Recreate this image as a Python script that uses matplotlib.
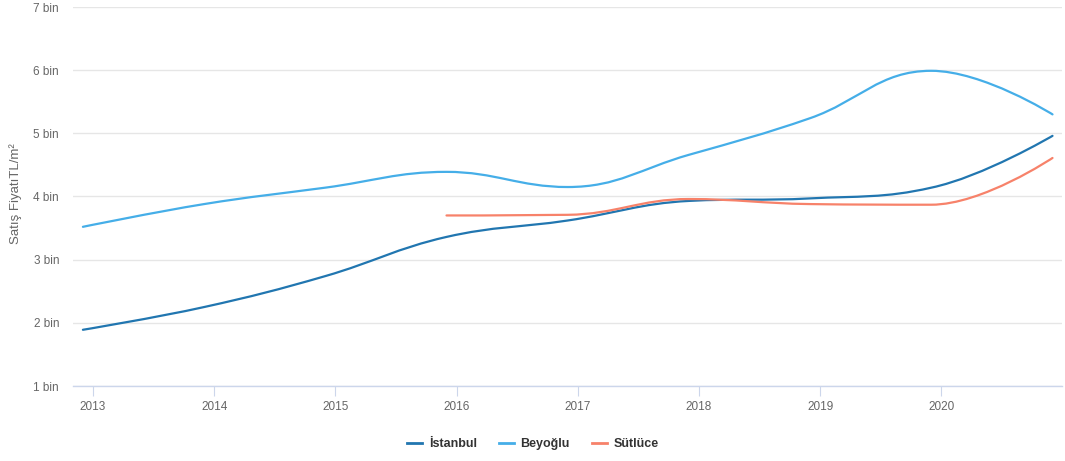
import numpy as np
import matplotlib
matplotlib.use('Agg')
import matplotlib.pyplot as plt
from matplotlib.path import Path
from matplotlib.patches import PathPatch
from matplotlib.lines import Line2D

plt.rcParams['font.family'] = ['Liberation Sans', 'DejaVu Sans']

# data: Aralık (December) values of each year, in thousand TL/m²
years = [2012, 2013, 2014, 2015, 2016, 2017, 2018, 2019, 2020]
istanbul = [1.89, 2.25, 2.74, 3.36, 3.62, 3.93, 3.97, 4.14, 4.96]
beyoglu = [3.52, 3.88, 4.14, 4.39, 4.15, 4.66, 5.24, 5.99, 5.30]
sutluce_years = [2015, 2016, 2017, 2018, 2019, 2020]
sutluce = [3.70, 3.71, 3.96, 3.88, 3.87, 4.61]

tick_years = [2013, 2014, 2015, 2016, 2017, 2018, 2019, 2020]
ytick_vals = [1, 2, 3, 4, 5, 6, 7]
ytick_labels = ['%d bin' % v for v in ytick_vals]

colors = {'İstanbul': '#2176b0', 'Beyoğlu': '#45aee8', 'Sütlüce': '#f7826a'}

# pixel scale, used for the spline angle correction
SX, SY = 121.2, 63.2


def spline_path(xs, ys, smoothing=1.5):
    """Highcharts style spline through the points, as a bezier path."""
    px = np.asarray(xs, float) * SX
    py = np.asarray(ys, float) * SY
    n = len(px)
    lc = [None] * n
    rc = [None] * n
    for i in range(n):
        if i == 0 or i == n - 1:
            lc[i] = (px[i], py[i])
            rc[i] = (px[i], py[i])
            continue
        d = smoothing + 1
        lx = (smoothing * px[i] + px[i - 1]) / d
        ly = (smoothing * py[i] + py[i - 1]) / d
        rx = (smoothing * px[i] + px[i + 1]) / d
        ry = (smoothing * py[i] + py[i + 1]) / d
        dl = np.hypot(lx - px[i], ly - py[i])
        dr = np.hypot(rx - px[i], ry - py[i])
        la = np.arctan2(ly - py[i], lx - px[i])
        ra = np.arctan2(ry - py[i], rx - px[i])
        ja = np.pi / 2 + (la + ra) / 2
        if abs(la - ja) > np.pi / 2:
            ja -= np.pi
        lx = px[i] + np.cos(ja) * dl
        ly = py[i] + np.sin(ja) * dl
        rx = px[i] + np.cos(np.pi + ja) * dr
        ry = py[i] + np.sin(np.pi + ja) * dr
        if ry > max(py[i], py[i + 1]) or ry < min(py[i], py[i + 1]):
            ry = max(py[i], py[i + 1]) if ry > py[i] else min(py[i], py[i + 1])
            ly = 2 * py[i] - ry
        if ly > max(py[i], py[i - 1]) or ly < min(py[i], py[i - 1]):
            ly = max(py[i], py[i - 1]) if ly > py[i] else min(py[i], py[i - 1])
            ry = 2 * py[i] - ly
        lc[i] = (lx, ly)
        rc[i] = (rx, ry)
    verts = [(px[0], py[0])]
    codes = [Path.MOVETO]
    for i in range(1, n):
        verts += [rc[i - 1], lc[i], (px[i], py[i])]
        codes += [Path.CURVE4] * 3
    verts = [(x / SX, y / SY) for x, y in verts]
    return Path(verts, codes)


fig = plt.figure(figsize=(10.65, 4.61), dpi=100)
ax = fig.add_axes([73 / 1065, 1 - 386 / 461, (1062 - 73) / 1065, (386 - 7) / 461])

series = [
    ('İstanbul', years, istanbul),
    ('Beyoğlu', years, beyoglu),
    ('Sütlüce', sutluce_years, sutluce),
]
for name, yrs, vals in series:
    xs = [y + 11 / 12 for y in yrs]
    path = spline_path(xs, vals)
    ax.add_patch(PathPatch(path, facecolor='none', edgecolor=colors[name],
                           lw=1.6, capstyle='round', joinstyle='round', zorder=3))

ax.set_xlim(2013 - 20 / SX, 2013 + 969 / SX)
ax.set_ylim(1, 7)

ax.set_yticks(ytick_vals)
ax.set_yticklabels(ytick_labels)
ax.set_xticks(tick_years)
ax.set_xticklabels([str(y) for y in tick_years])

ax.grid(axis='y', color='#e6e6e6', lw=1)
ax.set_axisbelow(True)
for s in ['top', 'right', 'left']:
    ax.spines[s].set_visible(False)
ax.spines['bottom'].set_color('#ccd6eb')
ax.spines['bottom'].set_linewidth(1)
ax.tick_params(axis='y', length=0, pad=10, labelsize=8.5, labelcolor='#666666')
ax.tick_params(axis='x', length=7, width=0.8, color='#ccd6eb', pad=4,
               labelsize=8.5, labelcolor='#666666')

fig.text(16 / 1065, 1 - 194 / 461, 'Satış FiyatıTL/m²', rotation=90,
         ha='center', va='center', fontsize=9.5, color='#666666')

handles = [Line2D([], [], color=colors[n], lw=2) for n, _, _ in series]
fig.legend(handles, [n for n, _, _ in series], loc='center',
           bbox_to_anchor=(533 / 1065, 1 - 444 / 461), ncol=3, frameon=False,
           handlelength=1.2, handletextpad=0.5, columnspacing=1.8,
           prop={'weight': 'bold', 'size': 9}, labelcolor='#333333')

fig.savefig('out.png', dpi=100)
